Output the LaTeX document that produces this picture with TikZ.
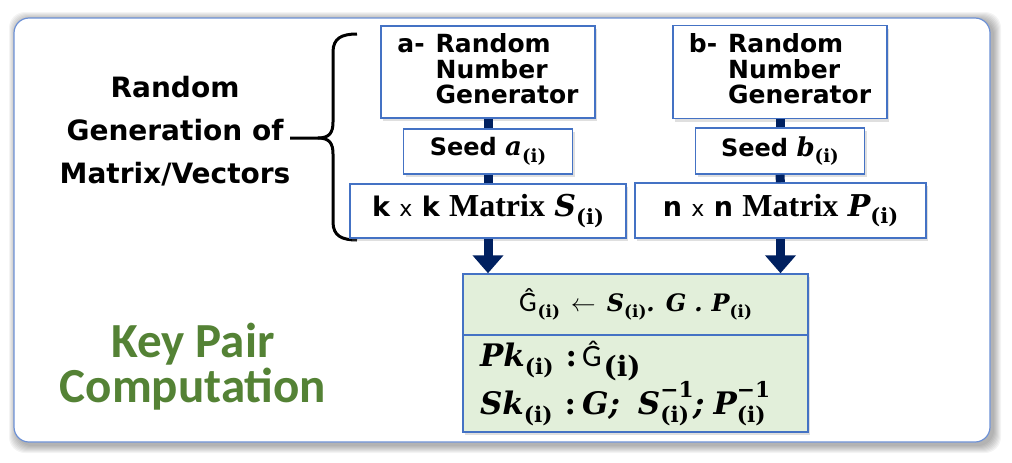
\documentclass[tikz,border=0pt]{standalone}
\usepackage{fontspec}
\newfontfamily\dejavu{DejaVu Sans}
\newfontfamily\djserif{DejaVu Serif}
\newfontfamily\carlito{Carlito}
\newfontfamily\libserif{Liberation Serif}
\usetikzlibrary{arrows.meta,shadows}
\definecolor{boxblue}{HTML}{4472C4}
\definecolor{navy}{HTML}{002060}
\definecolor{keygreen}{HTML}{548235}
\definecolor{greenfill}{HTML}{E2EFDA}
\definecolor{frameblue}{HTML}{6D91D6}
\makeatletter
\newcommand{\fs}[1]{\fontsize{#1}{#1}\selectfont}
\newcommand{\mv}[1]{{\djserif\bfseries\itshape #1}}
\newcommand{\ghat}{{\carlito\mdseries Ĝ}}
\newcommand{\ix}{\raisebox{-.25em}{\fontsize{\fpeval{.7*\f@size}}{0}\selectfont\djserif\bfseries(i)}}
\newcommand{\inv}{\rlap{\raisebox{.55em}{\fontsize{\fpeval{.7*\f@size}}{0}\selectfont\djserif\bfseries −1}}}
\makeatother
\tikzset{
  genbox/.style = {draw = boxblue, line width = 1.5pt, fill = white, inner sep = 0pt,
    drop shadow = {shadow xshift = 2pt, shadow yshift = -3pt, opacity = 0.25}},
  keybox/.style = {genbox, fill = greenfill, minimum width = 345pt},
  link/.style = {draw = navy, line width = 9pt},
  push/.style = {link, -{Triangle[width = 30pt, length = 18pt]}}
}

\begin{document}
\begin{tikzpicture}[x = 1pt, y = -1pt, font = \dejavu\bfseries]
\useasboundingbox (0,0) rectangle (1012,463);
% soft shadow round the frame
\foreach \d in {1,...,8}
\fill [black, opacity = 0.045, rounded corners = 16pt] (17-\d,20-\d) rectangle (993+\d,445+\d);
\node [draw = frameblue, line width = 1.2pt, fill = white, rounded corners = 15pt,
  minimum width = 976pt, minimum height = 424pt, inner sep = 0pt] (frame) at (502,230) {};

\node [align = center, anchor = north, inner sep = 0pt, font = \dejavu\bfseries\fontsize{28}{43}\selectfont]
  (gentext) at (175,76) {Random\\Generation of\\Matrix/Vectors};
\node [align = center, anchor = north, inner sep = 0pt, text = keygreen,
  font = \carlito\bfseries\fontsize{49}{45}\selectfont]
  (keytext) at (193,323) {Key Pair\\Computation};
\coordinate (bracetip) at (290,138);
\draw [line width = 3pt] (bracetip) -- (318,138) .. controls (330,138) and (333,132) .. (333,122)
  -- (333,52) .. controls (333,38) and (342,34) .. (357,34);
\draw [line width = 3pt] (318,138) .. controls (330,138) and (333,144) .. (333,154)
  -- (333,222) .. controls (333,236) and (342,240) .. (357,240);

% generators, seeds and matrices
\node [genbox, minimum width = 214pt, minimum height = 92pt] (rnga) at (488,72)
  {\fontsize{25}{23}\selectfont\begin{tabular}{@{}l@{\hspace{11pt}}l@{}}a- & Random\\ & Number\\ & Generator\end{tabular}};
\node [genbox, minimum width = 214pt, minimum height = 93pt] (rngb) at (780,72)
  {\fontsize{25}{23}\selectfont\begin{tabular}{@{}l@{\hspace{11pt}}l@{}}b- & Random\\ & Number\\ & Generator\end{tabular}};
\node [genbox, minimum width = 169pt, minimum height = 45pt] (seeda) at (488,151.5)
  {\fs{24}Seed {\fs{26}\mv{a}\ix}};
\node [genbox, minimum width = 169pt, minimum height = 46pt] (seedb) at (780,151)
  {\fs{24}Seed {\fs{26}\mv{b}\ix}};
\node [genbox, minimum width = 276pt, minimum height = 54pt] (mats) at (488,211)
  {\fs{27}k {\mdseries\fs{22}x} k {\libserif\fs{32}Matrix} {\fs{30}\mv{S}\ix}};
\node [genbox, minimum width = 291pt, minimum height = 55pt] (matp) at (780.5,210.5)
  {\fs{27}n {\mdseries\fs{22}x} n {\libserif\fs{32}Matrix} {\fs{30}\mv{P}\ix}};

% key pair
\node [keybox, minimum height = 61pt] (gtop) at (635.5,304.5)
  {\fs{24}{\fs{28}\ghat}\hspace{1pt}\ix\hspace{11pt}{\fs{26}$\leftarrow$}\hspace{11pt}\mv{S}\ix\mv{.}\hspace{11pt}\mv{G}\hspace{8pt}\mv{.}\hspace{9pt}\mv{P}\ix};
\node [keybox, minimum height = 97pt, text width = 311pt, align = left] (gbot) at (635.5,383.5)
  {\fontsize{31}{36}\selectfont \mv{Pk}\ix\hspace{12pt}{\djserif\bfseries :}\hspace{5pt}{\fs{31}\ghat\hspace{2pt}\fs{40}\ix}\\
   \mv{Sk}\ix\hspace{12pt}{\djserif\bfseries :}\hspace{6pt}\mv{G;}\hspace{18pt}\mv{S}\inv\ix\hspace{4pt}\mv{;}\hspace{9pt}\mv{P}\inv\ix};

\draw [link] (rnga) -- (seeda);
\draw [link] (seeda) -- (mats);
\draw [link] (rngb) -- (seedb);
\draw [link] (seedb) -- (matp);
\draw [push] (mats.south) -- (mats.south |- gtop.north);
\draw [push] (matp.south) -- (matp.south |- gtop.north);
\end{tikzpicture}
\end{document}
